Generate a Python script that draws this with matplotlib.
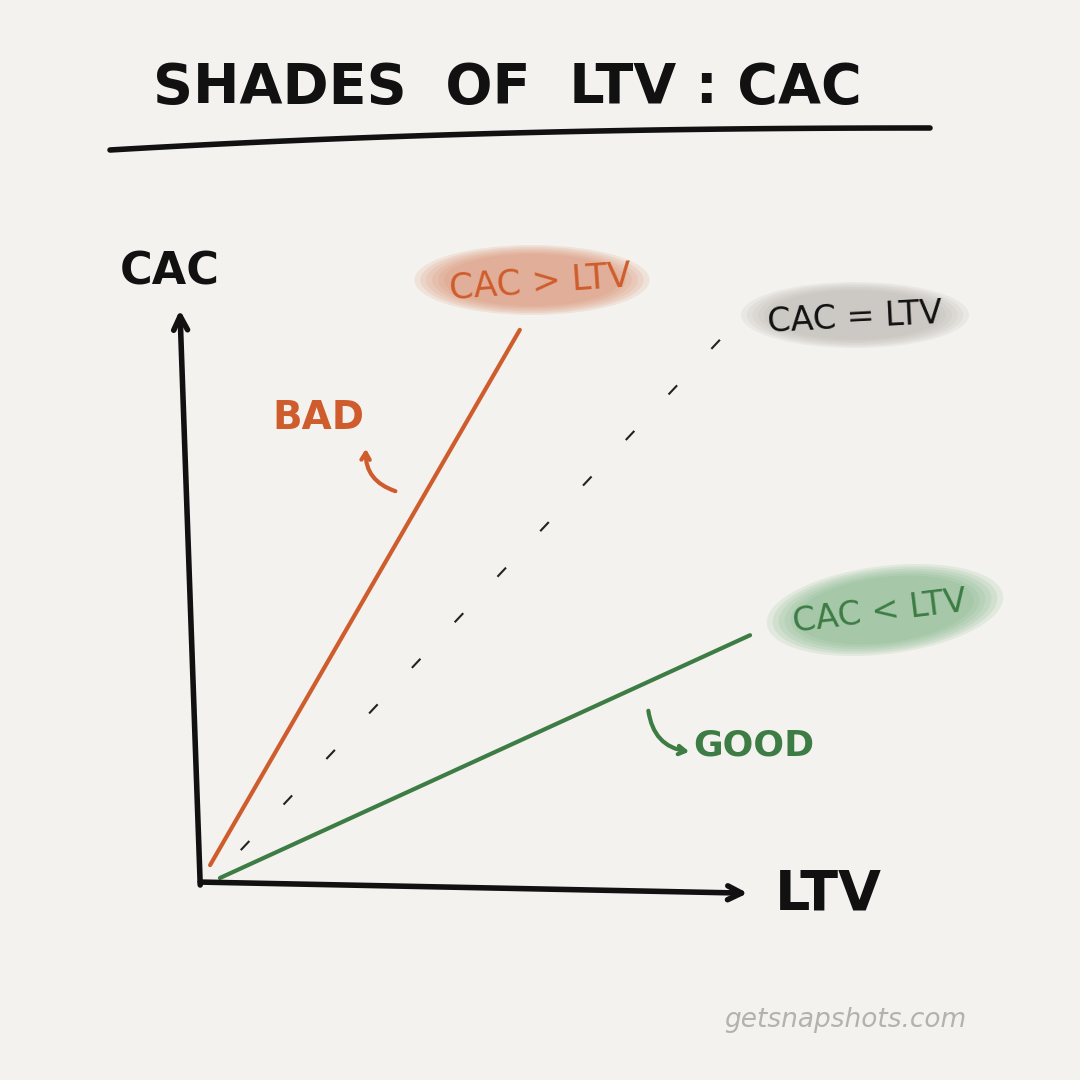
import numpy as np
import matplotlib.pyplot as plt
from matplotlib.patches import Ellipse

# Daten (LTV / CAC in relativen Einheiten 0..100)
ltv_bad = [2.6, 56.0]
cac_bad = [3.4, 94.9]
ltv_even = [3.1, 90.5]
cac_even = [0.9, 93.2]
ltv_good = [4.3, 95.7]
cac_good = [1.2, 42.7]

titel = "SHADES  OF  LTV : CAC"
lbl_bad, lbl_even, lbl_good = "CAC > LTV", "CAC = LTV", "CAC < LTV"

bg = "#f4f2ee"
orange = "#cf5c2c"
green = "#3d7c44"

W = 1080
fig = plt.figure(figsize=(10.8, 10.8), dpi=100, facecolor=bg)

# Deko-Ebene in Pixelkoordinaten
deko = fig.add_axes([0, 0, 1, 1])
deko.set_xlim(0, W)
deko.set_ylim(W, 0)
deko.axis("off")
deko.set_facecolor(bg)

# Titel + Unterstreichung (leicht geschwungen)
deko.text(507, 88, titel, fontsize=40, fontweight="bold",
          ha="center", va="center", color="#111111")
t = np.linspace(0, 1, 40)
deko.plot(110 + 820 * t, 128 + 22 * (1 - t) ** 2.2,
          color="#111111", lw=4, solid_capstyle="round")


def blob(x, y, w, h, col, ang=0):
    # weiche Farbwolke aus mehreren Ellipsen
    for k in range(6):
        f = 1.0 - k * 0.05
        deko.add_patch(Ellipse((x, y), w * f, h * f, angle=ang,
                               color=col, alpha=0.16, lw=0))


blob(532, 280, 235, 70, "#d98f6e")
blob(855, 315, 228, 66, "#b9b6b1")
blob(885, 610, 238, 88, "#7fb487", ang=-7)

deko.text(540, 282, lbl_bad, fontsize=25, color=orange,
          ha="center", va="center", rotation=4)
deko.text(855, 318, lbl_even, fontsize=24, color="#111111",
          ha="center", va="center", rotation=3)
deko.text(880, 612, lbl_good, fontsize=24, color=green,
          ha="center", va="center", rotation=7)

# Diagramm
ax = fig.add_axes([195 / W, (W - 885) / W, 580 / W, 585 / W])
ax.set_xlim(0, 100)
ax.set_ylim(0, 100)
ax.axis("off")
ax.patch.set_alpha(0)

ax.plot(ltv_bad, cac_bad, color=orange, lw=3, solid_capstyle="round")
# von oben gestrichelt, damit am Ende ein Strich sitzt
ax.plot(ltv_even[::-1], cac_even[::-1], color="#222222", lw=1.5,
        ls=(0, (6, 24)))
ax.plot(ltv_good, cac_good, color=green, lw=3, solid_capstyle="round")

# Achsenpfeile
pfeil = dict(arrowstyle="->,head_length=1.0,head_width=0.5", lw=4,
             color="#111111", shrinkA=0, shrinkB=0)
ax.annotate("", xy=(-2.6, 98.3), xytext=(0.9, 0), arrowprops=pfeil,
            annotation_clip=False)
ax.annotate("", xy=(95.3, -1.4), xytext=(0.9, 0.5), arrowprops=pfeil,
            annotation_clip=False)

deko.text(170, 272, "CAC", fontsize=32, fontweight="bold",
          ha="center", va="center", color="#111111")
deko.text(828, 895, "LTV", fontsize=40, fontweight="bold",
          ha="center", va="center", color="#111111")

# BAD / GOOD
deko.text(318, 418, "BAD", fontsize=28, fontweight="bold",
          ha="center", va="center", color=orange)
deko.annotate("", xy=(366, 446), xytext=(398, 492),
              arrowprops=dict(arrowstyle="->,head_length=0.5,head_width=0.3",
                              lw=3, color=orange,
                              connectionstyle="arc3,rad=-0.4"))
deko.text(754, 745, "GOOD", fontsize=26, fontweight="bold",
          ha="center", va="center", color=green)
deko.annotate("", xy=(692, 752), xytext=(648, 708),
              arrowprops=dict(arrowstyle="->,head_length=0.5,head_width=0.3",
                              lw=3, color=green,
                              connectionstyle="arc3,rad=0.4"))

deko.text(845, 1020, "getsnapshots.com", fontsize=19, style="italic",
          ha="center", va="center", color="#b5b2ad")

plt.savefig("out.png", dpi=100, facecolor=bg)
